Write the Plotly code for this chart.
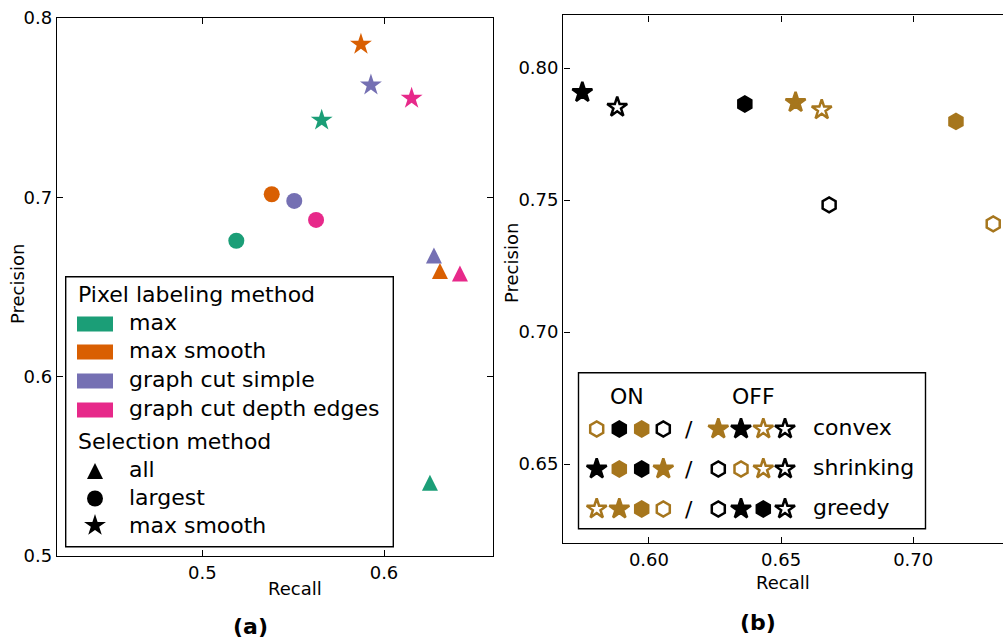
import plotly.graph_objects as go

FONT = "DejaVu Sans"
W, H = 1003, 642

# ---------------- (a) pixel labeling method x selection method ----------------
pixel_methods = ["max", "max smooth", "graph cut simple", "graph cut depth edges"]
pixel_colors = ["#1b9e77", "#d95f02", "#7570b3", "#e7298a"]

selection_methods = ["all", "largest", "max smooth"]

# recall / precision per pixel method, one list per selection method
recall_a = {
    "all":        [0.6253, 0.6308, 0.6275, 0.6418],
    "largest":    [0.5187, 0.5382, 0.5506, 0.5626],
    "max smooth": [0.5657, 0.5873, 0.5928, 0.6152],
}
precision_a = {
    "all":        [0.5408, 0.6589, 0.6676, 0.6575],
    "largest":    [0.6758, 0.7017, 0.6980, 0.6874],
    "max smooth": [0.7430, 0.7853, 0.7626, 0.7552],
}

# ---------------- (b) convex / shrinking / greedy options ----------------
recall_b = [0.5748, 0.5880, 0.6363, 0.6555, 0.6654, 0.6682, 0.7162, 0.7303]
precision_b = [0.7908, 0.7852, 0.7864, 0.7870, 0.7842, 0.7482, 0.7798, 0.7410]
convex_on = [False, False, True, False, False, True, True, True]
shrinking_on = [True, False, True, True, False, False, True, False]
greedy_on = [False, False, False, True, True, False, True, True]

option_names = ["convex", "shrinking", "greedy"]
# configurations listed in each legend row (indices into the arrays above)
option_on_order = [[7, 2, 6, 5], [0, 6, 2, 3], [4, 3, 6, 7]]
option_off_order = [[3, 0, 4, 1], [5, 7, 4, 1], [5, 0, 2, 1]]

BROWN = "#a6761d"


def selection_marker(name, size):
    """Marker for a selection method; the triangle is an isosceles
    arrow head flipped and shifted so its bounding box is centred."""
    if name == "all":
        return dict(symbol="arrow-down", angle=180, standoff=size / 2, size=size)
    if name == "largest":
        return dict(symbol="circle", size=size)
    return dict(symbol="star", size=size * 1.03)


def config_style(i):
    color = BROWN if greedy_on[i] else "black"
    return dict(
        symbol="hexagon" if convex_on[i] else "star",
        color=color if shrinking_on[i] else "white",
        line=dict(color=color, width=2.5),
        size=15,
    )


fig = go.Figure()

# panel (a) markers
for s in selection_methods:
    m = selection_marker(s, 16)
    fig.add_trace(go.Scatter(
        x=recall_a[s], y=precision_a[s], mode="markers",
        marker=dict(color=pixel_colors, line=dict(width=0), **m),
        xaxis="x", yaxis="y", showlegend=False, cliponaxis=False, hoverinfo="skip",
    ))

# panel (b) markers
for i in range(len(recall_b)):
    fig.add_trace(go.Scatter(
        x=[recall_b[i]], y=[precision_b[i]], mode="markers",
        marker=config_style(i),
        xaxis="x2", yaxis="y2", showlegend=False, cliponaxis=False, hoverinfo="skip",
    ))

# ---------------- hand-built legends on a pixel overlay ----------------
shapes = []
annotations = []


def text(x, y, s, size=22, xanchor="left", **kw):
    annotations.append(dict(
        x=x, y=y, xref="x3", yref="y3", text=s, showarrow=False,
        xanchor=xanchor, yanchor="middle",
        font=dict(family=FONT, size=size, color="black"), **kw))


# legend (a)
shapes.append(dict(type="rect", xref="x3", yref="y3", x0=65.7, x1=393.3, y0=276.7, y1=546.7,
                   line=dict(color="black", width=1.4), fillcolor="white", layer="below"))
text(76, 294, "Pixel labeling method")
row_y = [324, 352, 381, 410]
for name, col, y in zip(pixel_methods, pixel_colors, row_y):
    shapes.append(dict(type="rect", xref="x3", yref="y3", x0=77, x1=113, y0=y - 7.5, y1=y + 7.5,
                       line=dict(width=0), fillcolor=col))
    text(126.5, y - 1.5, name)
text(76, 441, "Selection method")
sel_y = [471, 498.5, 525.5]
sel_text_y = [470.5, 499, 527]
for name, y in zip(selection_methods, sel_y):
    m = selection_marker(name, 16)
    fig.add_trace(go.Scatter(
        x=[95], y=[y], mode="markers",
        marker=dict(color="black", line=dict(width=0), **m),
        xaxis="x3", yaxis="y3", showlegend=False, cliponaxis=False, hoverinfo="skip"))
for name, y in zip(selection_methods, sel_text_y):
    text(126.5, y - 1.5, name)

# legend (b)
shapes.append(dict(type="rect", xref="x3", yref="y3", x0=578.5, x1=925.5, y0=372.7, y1=528.7,
                   line=dict(color="black", width=1.4), fillcolor="white", layer="below"))
text(626.7, 396, "ON", xanchor="center")
text(753, 396, "OFF", xanchor="center")
on_x = [596.7, 619.3, 641.7, 663.3]
off_x = [718.3, 741, 763.3, 785]
opt_y = [429, 469, 509]
for name, on_idx, off_idx, y in zip(option_names, option_on_order, option_off_order, opt_y):
    idx = on_idx + off_idx
    styles = [config_style(i) for i in idx]
    fig.add_trace(go.Scatter(
        x=on_x + off_x, y=[y] * 8, mode="markers",
        marker=dict(symbol=[st["symbol"] for st in styles],
                    color=[st["color"] for st in styles],
                    line=dict(color=[st["line"]["color"] for st in styles], width=2.5),
                    size=15),
        xaxis="x3", yaxis="y3", showlegend=False, cliponaxis=False, hoverinfo="skip"))
    text(689, y, "/", xanchor="center")
    text(811, y - 1.5, name)

# axis titles and panel labels
text(294.5, 588, "Recall", size=18, xanchor="center")
text(783, 582, "Recall", size=18, xanchor="center")
text(17.5, 284.5, "Precision", size=18, xanchor="center", textangle=-90)
text(511.5, 263.5, "Precision", size=18, xanchor="center", textangle=-90)
text(250, 626, "<b>(a)</b>", size=22, xanchor="center")
text(758, 622, "<b>(b)</b>", size=22, xanchor="center")

axis_common = dict(
    showline=True, linecolor="black", linewidth=1.4, ticks="inside", ticklen=6,
    tickwidth=1, tickcolor="black", showgrid=False, zeroline=False, automargin=False,
    tickfont=dict(family=FONT, size=18, color="black"), fixedrange=True,
)

fig.update_layout(
    template="none",
    width=W, height=H, margin=dict(l=0, r=0, t=0, b=0, pad=0), autosize=False,
    paper_bgcolor="white", plot_bgcolor="rgba(0,0,0,0)",
    showlegend=False,
    xaxis=dict(domain=[57 / W, 493 / W], range=[0.42, 0.66], tickvals=[0.5, 0.6],
               ticktext=["0.5", "0.6"], mirror="ticks", anchor="y", **axis_common),
    yaxis=dict(domain=[1 - 556 / H, 1 - 18 / H], range=[0.5, 0.8],
               tickvals=[0.5, 0.6, 0.7, 0.8], ticktext=["0.5", "0.6", "0.7", "0.8"],
               mirror="ticks", anchor="x", **axis_common),
    xaxis2=dict(domain=[563.3 / W, 1.0], range=[0.5676, 0.734], tickvals=[0.60, 0.65, 0.70],
                ticktext=["0.60", "0.65", "0.70"], mirror="ticks", anchor="y2", **axis_common),
    yaxis2=dict(domain=[1 - 543.3 / H, 1 - 15.3 / H], range=[0.62, 0.82],
                tickvals=[0.65, 0.70, 0.75, 0.80], ticktext=["0.65", "0.70", "0.75", "0.80"],
                mirror=False, anchor="x2", **axis_common),
    xaxis3=dict(domain=[0, 1], range=[0, W], visible=False, anchor="y3", fixedrange=True,
                automargin=False),
    yaxis3=dict(domain=[0, 1], range=[H, 0], visible=False, anchor="x3", fixedrange=True,
                automargin=False),
    shapes=shapes,
    annotations=annotations,
)

fig.write_html("out.html", config={"displayModeBar": False})
